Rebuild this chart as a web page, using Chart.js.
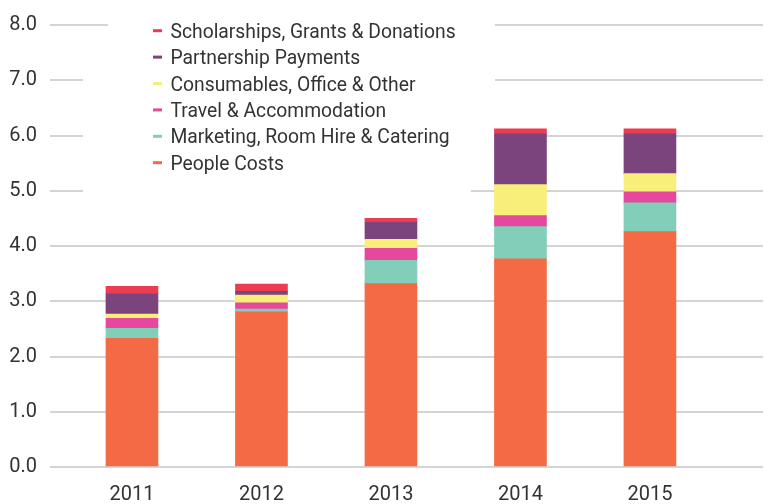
<!DOCTYPE html>
<html>
<head>
<meta charset="utf-8">
<script src="https://cdn.jsdelivr.net/npm/chart.js@4/dist/chart.umd.min.js"></script>
<style>
  html, body { margin: 0; padding: 0; background: #ffffff; }
  #wrap { width: 770px; height: 504px; }
</style>
</head>
<body>
<div id="wrap"><canvas id="costChart" width="770" height="504"></canvas></div>
<script>
// categories and values (in millions)
const years = ['2011', '2012', '2013', '2014', '2015'];

const peopleCosts   = [2.33, 2.81, 3.32, 3.77, 4.26];
const marketing     = [0.18, 0.05, 0.42, 0.58, 0.52];
const travel        = [0.18, 0.11, 0.22, 0.20, 0.20];
const consumables   = [0.08, 0.14, 0.16, 0.56, 0.33];
const partnership   = [0.37, 0.07, 0.31, 0.92, 0.72];
const scholarships  = [0.13, 0.13, 0.07, 0.09, 0.09];

const yTicks = [0, 1, 2, 3, 4, 5, 6, 7, 8];

const seriesLabels = [
    'People Costs',
    'Marketing, Room Hire & Catering',
    'Travel & Accommodation',
    'Consumables, Office & Other',
    'Partnership Payments',
    'Scholarships, Grants & Donations'
];
const seriesValues = [peopleCosts, marketing, travel, consumables, partnership, scholarships];
const seriesColors = ['#f36a45', '#82ceb8', '#e5489d', '#f8ef7a', '#7b447d', '#ec3c52'];

const FONT = 'Roboto, "Liberation Sans", sans-serif';
const TEXT = '#333333';

// one column legend sitting on a white panel over the grid
const panelLegend = {
    id: 'panelLegend',
    beforeDatasetsDraw(chart) {
        const ctx = chart.ctx;
        ctx.save();
        ctx.fillStyle = '#ffffff';
        ctx.fillRect(108, 14, 387, 18);
        ctx.fillRect(83, 32, 412, 140);
        ctx.fillRect(83, 172, 388, 28);

        const sets = chart.data.datasets.slice().reverse();
        ctx.font = '19.3px ' + FONT;
        ctx.textAlign = 'left';
        ctx.textBaseline = 'alphabetic';
        sets.forEach((ds, i) => {
            const cy = 30.7 + i * 26.4;
            ctx.fillStyle = ds.backgroundColor;
            ctx.fillRect(153, cy - 1.5, 9, 3);
            ctx.fillStyle = TEXT;
            ctx.fillText(ds.label, 170.5, cy + 7);
        });
        ctx.restore();
    }
};

const datasets = seriesLabels.map((label, i) => ({
    label: label,
    data: seriesValues[i].map((v, j) => ({ x: Number(years[j]), y: v })),
    backgroundColor: seriesColors[i],
    borderWidth: 0,
    barThickness: 52
}));

new Chart(document.getElementById('costChart'), {
    type: 'bar',
    data: { datasets: datasets },
    options: {
        responsive: false,
        animation: false,
        devicePixelRatio: 1,
        layout: { padding: { top: 24, right: 7, left: 0, bottom: 0 } },
        plugins: {
            legend: { display: false },
            tooltip: { enabled: false }
        },
        scales: {
            x: {
                type: 'linear',
                stacked: true,
                offset: false,
                min: 2010.367,
                max: 2015.873,
                afterBuildTicks: (s) => { s.ticks = years.map(y => ({ value: Number(y) })); },
                afterFit: (s) => { s.height = 37; },
                grid: { display: false, drawTicks: false },
                border: { display: false },
                ticks: {
                    padding: 16,
                    color: TEXT,
                    font: { family: FONT, size: 20 },
                    callback: (v) => String(v),
                    maxRotation: 0,
                    autoSkip: false
                }
            },
            y: {
                stacked: true,
                min: 0,
                max: 8,
                afterBuildTicks: (s) => { s.ticks = yTicks.map(v => ({ value: v })); },
                afterFit: (s) => { s.width = 50; },
                grid: { color: '#d4d4d4', lineWidth: 2, drawTicks: false },
                border: { display: false },
                ticks: {
                    padding: 13,
                    color: TEXT,
                    font: { family: FONT, size: 20 },
                    callback: (v) => v.toFixed(1)
                }
            }
        }
    },
    plugins: [panelLegend]
});
</script>
</body>
</html>
